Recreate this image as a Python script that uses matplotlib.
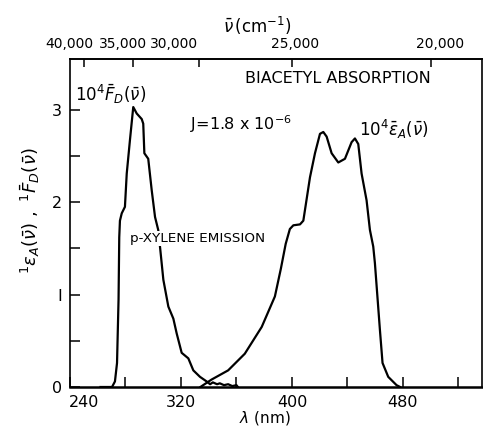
import numpy as np
import matplotlib
matplotlib.use("Agg")
import matplotlib.pyplot as plt
from matplotlib.transforms import ScaledTranslation

# p-xylene emission, 10^4 F_D
lam_em = [262, 270.3, 272.4, 273.9, 275.0, 275.5, 276.0, 277.3, 279.6, 280.9,
          283.2, 285.6, 288.1, 291.7, 292.8, 293.6, 296.4, 298.9, 301.3, 303.6,
          305.0, 307.3, 310.9, 314.5, 316.9, 320.5, 325.3, 328.9, 333.7, 338.5,
          341, 343, 346, 348, 351, 354, 357, 360, 361]
f_em = [0, 0, 0.06, 0.26, 0.95, 1.62, 1.80, 1.88, 1.95, 2.31,
        2.67, 3.03, 2.96, 2.90, 2.85, 2.53, 2.47, 2.13, 1.84, 1.70,
        1.50, 1.16, 0.87, 0.74, 0.58, 0.37, 0.31, 0.18, 0.11, 0.06,
        0.03, 0.05, 0.03, 0.04, 0.02, 0.03, 0.01, 0.02, 0]

# biacetyl absorption, 10^4 eps_A
lam_ab = [334, 342, 354, 366, 378.2, 387.7, 392, 395.5, 398.5, 401,
          405.8, 408.2, 413, 416.6, 420.2, 422.6, 425, 428.6, 433.4, 438.2,
          443, 445.4, 447.8, 450.2, 453.8, 456.2, 458.6, 459.8, 463.4, 465.3,
          469.4, 475.4, 478]
e_ab = [0, 0.08, 0.18, 0.36, 0.65, 0.98, 1.28, 1.55, 1.71, 1.75,
        1.76, 1.80, 2.27, 2.53, 2.74, 2.76, 2.71, 2.53, 2.43, 2.47,
        2.65, 2.69, 2.63, 2.31, 2.02, 1.70, 1.52, 1.34, 0.62, 0.26,
        0.11, 0.02, 0]

x_ticks = [240, 320, 400, 480]
x_minor = [280, 360, 440, 520]
y_ticks = [0, 1, 2, 3]
y_tick_labels = ["0", "I", "2", "3"]
wn_ticks = [40000, 35000, 30000, 25000, 20000]
wn_labels = ["40,000", "35,000", "30,000", "25,000", "20,000"]
wn_offsets = [-14, -10, -25, 3, 9]   # pixels, hand lettered placement


def nm2wn(x):
    x = np.asarray(x, dtype=float)
    with np.errstate(divide="ignore"):
        return 1e7 / x


fig = plt.figure(figsize=(4.83, 4.28), dpi=100)
ax = fig.add_axes([70 / 483, 1 - 387 / 428, 412 / 483, 328 / 428])

ax.plot(lam_em, f_em, color="black", lw=1.6, solid_joinstyle="round")
ax.plot(lam_ab, e_ab, color="black", lw=1.6, solid_joinstyle="round")

ax.set_xlim(240, 537)
ax.set_ylim(0, 3.55)
for s in ax.spines.values():
    s.set_linewidth(1.2)
ax.spines["bottom"].set_linewidth(1.8)

ax.set_xticks(x_ticks)
ax.set_xticks(x_minor, minor=True)
ax.set_yticks(y_ticks)
ax.set_yticklabels(y_tick_labels)
ax.set_yticks([0.5, 1.5, 2.5], minor=True)
ax.tick_params(axis="both", which="both", direction="in", length=7, width=1.1,
               labelsize=11.5, top=False, right=False)
ax.tick_params(axis="x", pad=6)
ax.tick_params(axis="y", pad=6)

off = ScaledTranslation(14 / 100, 0, fig.dpi_scale_trans)
lbl0 = ax.xaxis.get_majorticklabels()[0]
lbl0.set_transform(lbl0.get_transform() + off)

sec = ax.secondary_xaxis("top", functions=(nm2wn, nm2wn))
sec.set_xticks(wn_ticks)
sec.set_xticklabels(wn_labels)
sec.tick_params(direction="in", length=6, width=1.1, labelsize=10, pad=6)
sec.spines["top"].set_linewidth(1.2)
for lbl, dx in zip(sec.xaxis.get_majorticklabels(), wn_offsets):
    lbl.set_transform(lbl.get_transform() + ScaledTranslation(dx / 100, 0, fig.dpi_scale_trans))

ax.text(243.6, 3.10, r"$10^4\bar{F}_D(\bar{\nu})$", fontsize=12, ha="left", va="baseline")
ax.text(326.5, 2.78, r"J=1.8 x 10$^{-6}$", fontsize=11.5, ha="left", va="baseline")
ax.text(366, 3.29, "BIACETYL ABSORPTION", fontsize=11.5, ha="left", va="baseline")
ax.text(448.3, 2.72, r"$10^4\bar{\epsilon}_A(\bar{\nu})$", fontsize=12, ha="left", va="baseline")
ax.text(283.2, 1.57, "p-XYLENE EMISSION", fontsize=9.7, ha="left", va="baseline",
        bbox=dict(facecolor="white", edgecolor="none", pad=0.5), zorder=5)

fig.text(30 / 483, 1 - 211 / 428,
         r"$^1\epsilon_A(\bar{\nu})\ ,\ ^1\bar{F}_D(\bar{\nu})$",
         rotation=90, fontsize=13, ha="center", va="center")
fig.text(257 / 483, 1 - 26 / 428, r"$\bar{\nu}\,$(cm$^{-1}$)", fontsize=12,
         ha="center", va="center")
fig.text(265 / 483, 1 - 418 / 428, r"$\lambda$ (nm)", fontsize=11,
         ha="center", va="center")

fig.savefig("out.png", dpi=100)
